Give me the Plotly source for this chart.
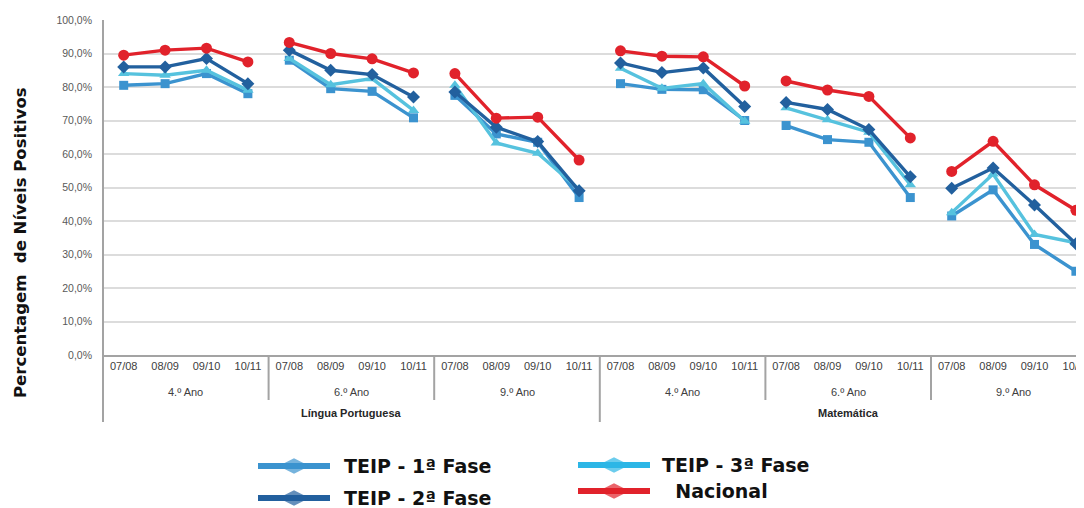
import plotly.graph_objects as go

# ---------------- data ----------------
subjects = ["Língua Portuguesa", "Matemática"]
years = ["4.º Ano", "6.º Ano", "9.º Ano"]
periods = ["07/08", "08/09", "09/10", "10/11"]

# values per group (LP 4º, LP 6º, LP 9º, Mat 4º, Mat 6º, Mat 9º), 4 periods each
teip1 = [80.5, 81.0, 84.0, 78.0,
         88.0, 79.5, 78.7, 70.8,
         77.5, 66.0, 63.5, 47.0,
         81.0, 79.3, 79.2, 70.0,
         68.5, 64.3, 63.5, 47.0,
         41.5, 49.3, 33.0, 25.0]
teip2 = [86.0, 86.0, 88.5, 81.0,
         91.0, 85.0, 83.7, 77.0,
         78.5, 68.0, 63.7, 49.0,
         87.2, 84.3, 85.7, 74.2,
         75.4, 73.3, 67.3, 53.2,
         49.8, 55.8, 44.8, 33.2]
teip3 = [84.0, 83.5, 85.0, 79.0,
         88.5, 80.7, 82.5, 73.0,
         80.5, 63.3, 60.2, 49.5,
         85.6, 79.6, 81.0, 69.8,
         73.8, 70.2, 66.5, 50.8,
         42.5, 54.0, 36.0, 33.5]
nacional = [89.5, 91.0, 91.6, 87.5,
            93.3, 90.0, 88.4, 84.2,
            84.0, 70.7, 71.0, 58.2,
            90.8, 89.2, 89.0, 80.3,
            81.8, 79.1, 77.2, 64.8,
            54.8, 63.8, 50.8, 43.2]

series_names = ["TEIP - 1ª Fase", "TEIP - 2ª Fase", "TEIP - 3ª Fase", "Nacional"]
y_ticks = [0, 10, 20, 30, 40, 50, 60, 70, 80, 90, 100]
y_tick_text = [f"{v},0%" for v in y_ticks]

# ---------------- styles / geometry ----------------
W, H = 1084, 508
OFF = 8  # page body margin offset of the figure in the screenshot
c1, c2, c3, cn = "#3b93cf", "#22609e", "#56c2de", "#e1222b"
leg_c3 = "#2cb6e6"
AX = "#a3a3a3"
GRID = "#dcdcdc"


def fx(px):
    return (px - OFF) / W


def fy(py):
    return 1 - (py - OFF) / H


PL, PT, PB = 103, 20, 355          # screen pixels of plot area
px_per_cat = 41.4
x_right = (W + OFF - PL) / px_per_cat - 0.5

n_per = len(periods)
n_grp = len(subjects) * len(years)


def with_gaps(vals):
    xs, ys = [], []
    for g in range(n_grp):
        for p in range(n_per):
            i = g * n_per + p
            xs.append(i)
            ys.append(vals[i])
        xs.append(None)
        ys.append(None)
    return xs, ys


fig = go.Figure()
specs = [
    (series_names[0], teip1, c1, "square", 9),
    (series_names[2], teip3, c3, "triangle-up", 10),
    (series_names[1], teip2, c2, "diamond", 10),
    (series_names[3], nacional, cn, "circle", 11),
]
for name, vals, col, sym, sz in specs:
    xs, ys = with_gaps(vals)
    fig.add_trace(go.Scatter(
        x=xs, y=ys, mode="lines+markers", name=name,
        line=dict(color=col, width=3.4),
        marker=dict(symbol=sym, size=sz, color=col, line=dict(width=0)),
        showlegend=False, connectgaps=False,
    ))

# ---------------- custom legend (hidden overlay axes in screen pixels) ----
legend_items = [
    (series_names[0], c1, 258, 466, 342),
    (series_names[1], c2, 258, 498, 342),
    (series_names[2], leg_c3, 578, 465, 660),
    (series_names[3], cn, 578, 491, 660),
]
annotations = []
for name, col, x0, yy, tx in legend_items:
    fig.add_trace(go.Scatter(
        x=[x0, x0 + 36, x0 + 72], y=[yy, yy, yy], xaxis="x2", yaxis="y2",
        mode="lines+markers", line=dict(color=col, width=6),
        marker=dict(symbol="diamond-wide", size=[0, 22, 0], color=col,
                    line=dict(width=0)),
        showlegend=False, hoverinfo="skip",
    ))
    label = name if name != "Nacional" else "\u00a0\u00a0" + name
    annotations.append(dict(
        x=fx(tx), y=fy(yy), xref="paper", yref="paper", text=f"<b>{label}</b>",
        showarrow=False, xanchor="left", yanchor="middle",
        font=dict(family="DejaVu Sans", size=19, color="#111111")))

# group labels
for s_i, subj in enumerate(subjects):
    for y_i, yr in enumerate(years):
        g = s_i * len(years) + y_i
        annotations.append(dict(
            x=g * n_per + (n_per - 1) / 2, y=fy(392), xref="x", yref="paper",
            text=yr, showarrow=False, yanchor="middle",
            font=dict(family="Liberation Sans", size=11, color="#404040")))
    annotations.append(dict(
        x=s_i * n_per * len(years) + (n_per * len(years) - 1) / 2, y=fy(413),
        xref="x", yref="paper", text=f"<b>{subj}</b>", showarrow=False,
        yanchor="middle", font=dict(family="Liberation Sans", size=11, color="#262626")))

# y title
annotations.append(dict(
    x=fx(20), y=fy(243), xref="paper", yref="paper",
    text="<b>Percentagem  de Níveis Positivos</b>", textangle=-90, showarrow=False,
    xanchor="center", yanchor="middle",
    font=dict(family="DejaVu Sans", size=16.5, color="#111111")))

shapes = []
shapes.append(dict(type="line", xref="paper", yref="paper",
                   x0=fx(PL), x1=fx(PL), y0=fy(PT), y1=fy(422),
                   line=dict(color=AX, width=2)))
for g in range(1, n_grp):
    xb = g * n_per - 0.5
    bottom = 422 if g % len(years) == 0 else 400
    shapes.append(dict(type="line", xref="x", yref="paper",
                       x0=xb, x1=xb, y0=fy(PB), y1=fy(bottom),
                       line=dict(color=AX, width=2)))

cat_labels = periods * n_grp
fig.update_layout(
    width=W, height=H,
    margin=dict(l=0, r=0, t=0, b=0),
    paper_bgcolor="white", plot_bgcolor="rgba(0,0,0,0)",
    xaxis=dict(domain=[fx(PL), 1.0], range=[-0.5, x_right],
               tickvals=list(range(len(cat_labels))), ticktext=cat_labels,
               tickfont=dict(family="Liberation Sans", size=11, color="#404040"),
               showgrid=False, zeroline=False, showline=True, linecolor=AX,
               linewidth=2, ticks="", fixedrange=True, automargin=False),
    yaxis=dict(domain=[fy(PB), fy(PT)], range=[0, 100],
               tickvals=y_ticks, ticktext=y_tick_text,
               tickfont=dict(family="Liberation Sans", size=10.5, color="#595959"),
               showgrid=True, gridcolor=GRID, gridwidth=2, zeroline=False,
               showline=False, ticks="", ticklabelstandoff=10, automargin=False),
    xaxis2=dict(domain=[0, 1], range=[OFF, W + OFF], visible=False, anchor="y2"),
    yaxis2=dict(domain=[0, 1], range=[H + OFF, OFF], visible=False, anchor="x2"),
    annotations=annotations,
    shapes=shapes,
    showlegend=False,
)

fig.write_html("out.html")
